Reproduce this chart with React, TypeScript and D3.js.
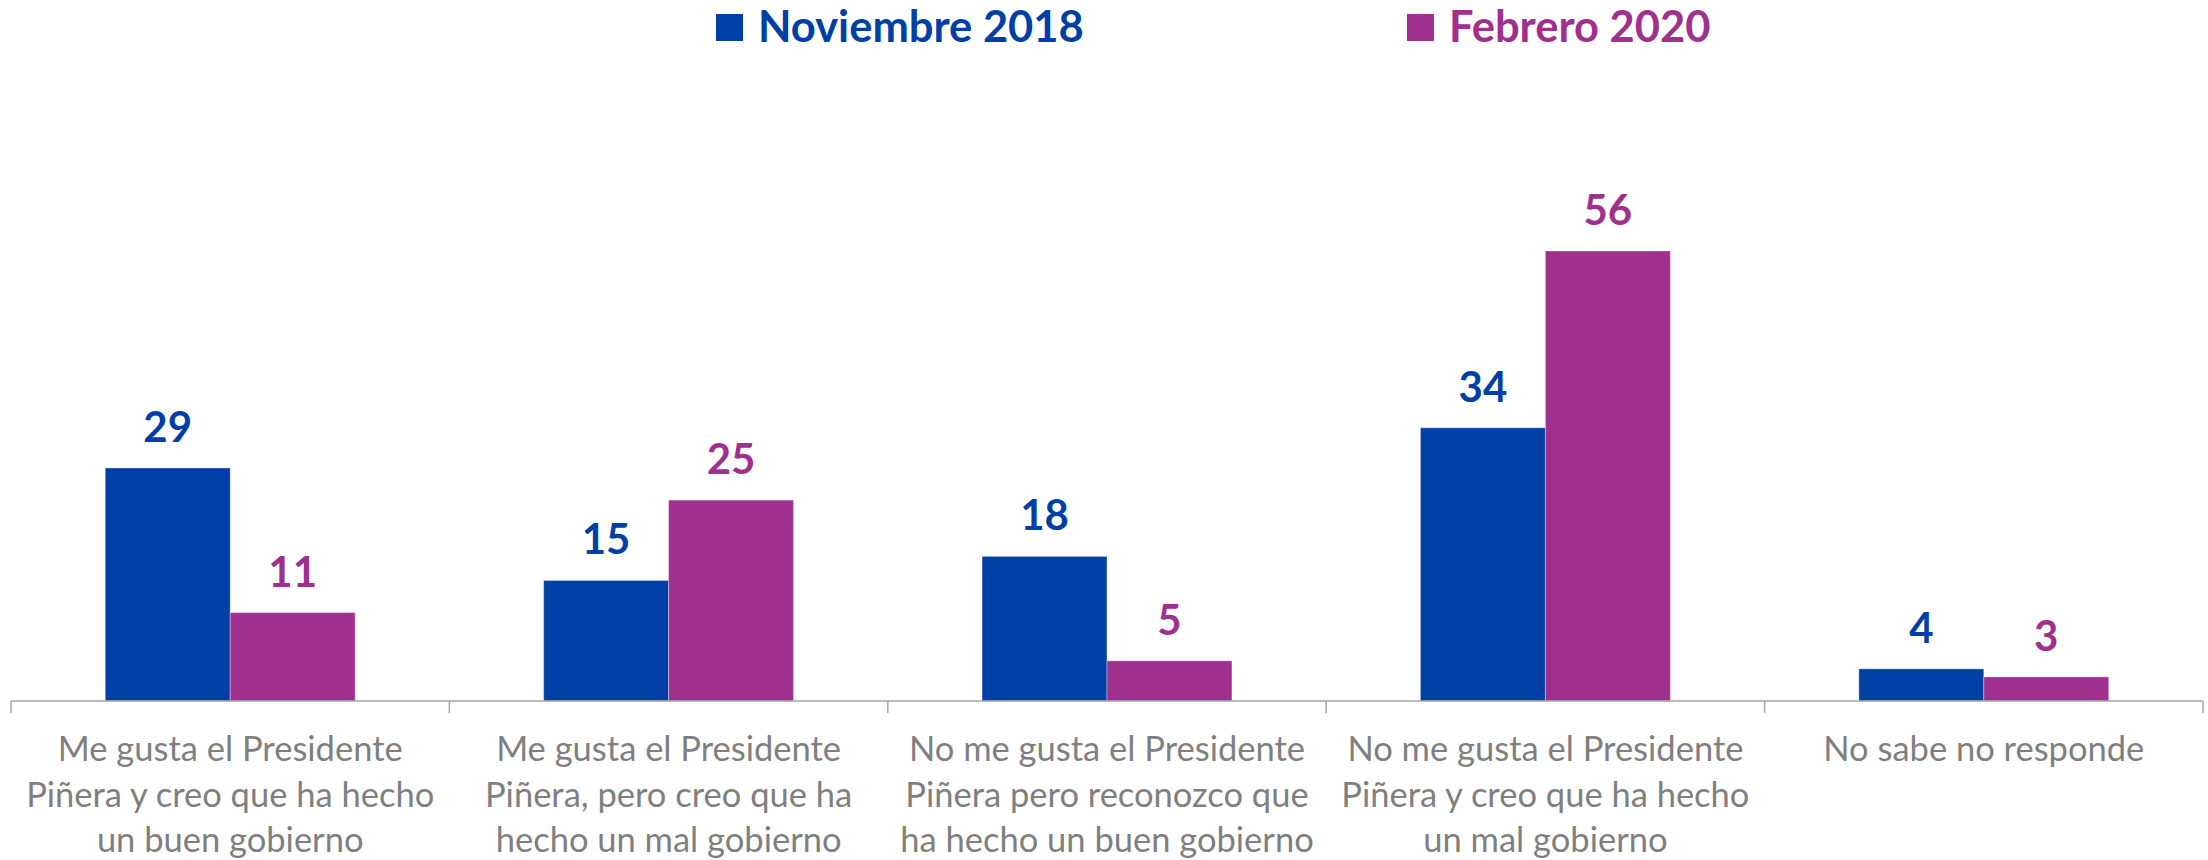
import React, { useEffect, useRef } from 'react';
import * as d3 from 'd3';

const categories = [
  'Me gusta el Presidente|Piñera y creo que ha hecho|un buen gobierno',
  'Me gusta el Presidente|Piñera, pero creo que ha|hecho un mal gobierno',
  'No me gusta el Presidente|Piñera pero reconozco que|ha hecho un buen gobierno',
  'No me gusta el Presidente|Piñera y creo que ha hecho|un mal gobierno',
  'No sabe no responde',
];
const seriesNames = ['Noviembre 2018', 'Febrero 2020'];
const nov2018 = [29, 15, 18, 34, 4];
const feb2020 = [11, 25, 5, 56, 3];
const colors = ['#003FA6', '#A0308E'];

const W = 2208;
const H = 860;

export default function App() {
  const ref = useRef<SVGSVGElement>(null);

  useEffect(() => {
    document.body.style.margin = '0';
    const svg = d3.select(ref.current);
    svg.selectAll('*').remove();

    const font = 'Lato, "Open Sans", sans-serif';
    const base = 701;
    const x0 = d3.scaleBand().domain(categories).range([11, 2203]).padding(0);
    const bw = x0.bandwidth();
    const gap = bw * 0.215;
    const x1 = d3.scaleBand().domain(seriesNames).range([gap, bw - gap]).padding(0);
    const y = d3.scaleLinear().domain([0, 56]).range([base, 251]);

    const rows = categories.map((c, i) => ({ cat: c, vals: [nov2018[i], feb2020[i]] }));

    // bars
    const g = svg.append('g');
    const grp = g.selectAll('g.cat').data(rows).enter().append('g')
      .attr('transform', (d) => `translate(${x0(d.cat)},0)`);
    grp.selectAll('rect')
      .data((d) => d.vals.map((v, j) => ({ s: seriesNames[j], v, j })))
      .enter().append('rect')
      .attr('x', (d) => x1(d.s)!)
      .attr('y', (d) => y(d.v))
      .attr('width', x1.bandwidth())
      .attr('height', (d) => base - y(d.v))
      .attr('fill', (d) => colors[d.j])
      .attr('stroke', '#ffffff')
      .attr('stroke-opacity', 0.35)
      .attr('stroke-width', 1);
    grp.selectAll('text.val')
      .data((d) => d.vals.map((v, j) => ({ s: seriesNames[j], v, j })))
      .enter().append('text')
      .attr('x', (d) => x1(d.s)! + x1.bandwidth() / 2)
      .attr('y', (d) => y(d.v) - 26)
      .attr('text-anchor', 'middle')
      .attr('font-family', font)
      .attr('font-weight', 'bold')
      .attr('font-size', 42)
      .attr('fill', (d) => colors[d.j])
      .text((d) => d.v);

    // axis
    svg.append('line')
      .attr('x1', 11).attr('x2', 2203).attr('y1', base).attr('y2', base)
      .attr('stroke', '#a6a6a6').attr('stroke-width', 1.5);
    const ticks = categories.map((c) => x0(c)!).concat([x0.range()[1]]);
    svg.selectAll('line.tick').data(ticks).enter().append('line')
      .attr('x1', (d) => d).attr('x2', (d) => d)
      .attr('y1', base).attr('y2', base + 12)
      .attr('stroke', '#a6a6a6').attr('stroke-width', 1.5);

    // category labels
    const lab = svg.selectAll('text.cat').data(categories).enter().append('text')
      .attr('text-anchor', 'middle')
      .attr('font-family', font)
      .attr('font-size', 34.5)
      .attr('fill', '#7f7f7f');
    lab.selectAll('tspan')
      .data((d) => d.split('|').map((t) => ({ t, c: d })))
      .enter().append('tspan')
      .attr('x', (d) => x0(d.c)! + bw / 2)
      .attr('y', (_d, i) => 761 + i * 45.5)
      .text((d) => d.t);

    // legend
    const legX = [716, 1407];
    const leg = svg.selectAll('g.leg').data(seriesNames).enter().append('g')
      .attr('transform', (_d, i) => `translate(${legX[i]},0)`);
    leg.append('rect')
      .attr('x', 0).attr('y', 14).attr('width', 27).attr('height', 27)
      .attr('fill', (_d, i) => colors[i]);
    leg.append('text')
      .attr('x', 42).attr('y', 42)
      .attr('font-family', font)
      .attr('font-weight', 'bold')
      .attr('font-size', 43.5)
      .attr('fill', (_d, i) => colors[i])
      .text((d) => d);
  }, []);

  return <svg ref={ref} width={W} height={H} style={{ display: 'block', background: '#fff' }}></svg>;
}
